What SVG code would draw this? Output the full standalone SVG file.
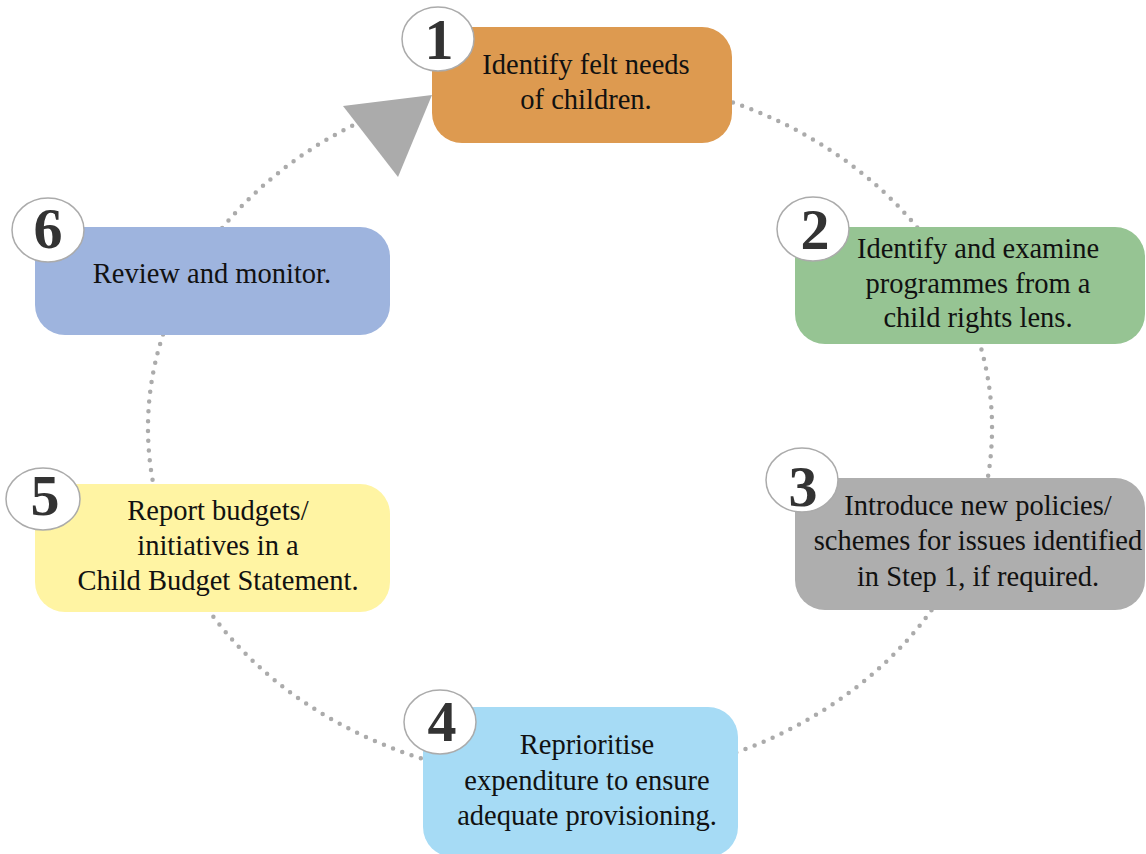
<svg xmlns="http://www.w3.org/2000/svg" width="1146" height="854" viewBox="0 0 1146 854">
<style>
.conn{fill:none;stroke:#ababab;stroke-width:4.5;stroke-linecap:round;stroke-dasharray:0 9.8}
.arrow{fill:#ababab}
.badge{fill:#ffffff;stroke:#ababab;stroke-width:1.5}
.num{font-family:"Liberation Serif","DejaVu Serif",serif;font-weight:bold;font-size:58px;fill:#333333;text-anchor:middle}
.lbl{font-family:"Liberation Serif","DejaVu Serif",serif;font-size:28.5px;fill:#111111;text-anchor:middle}
</style>
<rect width="1146" height="854" fill="#ffffff"/>
<g id="connectors">
<path class="conn" d="M714.3,96.3 A422,353 0 0 1 923.9,235.8"/>
<path class="conn" d="M975.7,330.7 A422,353 0 0 1 982.8,501.4"/>
<path class="conn" d="M952.5,577.2 A422,353 0 0 1 714.3,759.7"/>
<path class="conn" d="M439.6,763.7 A422,353 0 0 1 204.5,604.5"/>
<path class="conn" d="M154.4,489.3 A422,353 0 0 1 166.4,324.8"/>
<path class="conn" d="M204.5,251.5 A422,353 0 0 1 378.4,113.5"/>
<polygon class="arrow" points="343,106 432,95 398,177"/>
</g>
<g id="node1">
<rect x="432" y="27" width="300" height="116" rx="30" fill="#DD9A50"/>
<ellipse class="badge" cx="438" cy="39" rx="36" ry="32"/>
<text class="num" x="439" y="59">1</text>
<text class="lbl" x="586" y="74">Identify felt needs</text>
<text class="lbl" x="586" y="109">of children.</text>
</g>
<g id="node2">
<rect x="795" y="227" width="350" height="117" rx="30" fill="#96C493"/>
<ellipse class="badge" cx="813" cy="229" rx="36" ry="32"/>
<text class="num" x="815" y="249">2</text>
<text class="lbl" x="978" y="258">Identify and examine</text>
<text class="lbl" x="978" y="293">programmes from a</text>
<text class="lbl" x="978" y="327">child rights lens.</text>
</g>
<g id="node3">
<rect x="795" y="478" width="350" height="132" rx="30" fill="#AEAEAE"/>
<ellipse class="badge" cx="802" cy="480" rx="36" ry="32"/>
<text class="num" x="803" y="506">3</text>
<text class="lbl" x="978" y="515">Introduce new policies/</text>
<text class="lbl" x="978" y="550">schemes for issues identified</text>
<text class="lbl" x="978" y="586">in Step 1, if required.</text>
</g>
<g id="node4">
<rect x="423" y="707" width="315" height="150" rx="30" fill="#A6DBF5"/>
<ellipse class="badge" cx="440" cy="722" rx="36" ry="32"/>
<text class="num" x="442" y="741">4</text>
<text class="lbl" x="587" y="754">Reprioritise</text>
<text class="lbl" x="587" y="790">expenditure to ensure</text>
<text class="lbl" x="587" y="825">adequate provisioning.</text>
</g>
<g id="node5">
<rect x="35" y="484" width="355" height="128" rx="30" fill="#FFF4A3"/>
<ellipse class="badge" cx="43" cy="499" rx="37" ry="31"/>
<text class="num" x="45" y="515">5</text>
<text class="lbl" x="218" y="520">Report budgets/</text>
<text class="lbl" x="218" y="555">initiatives in a</text>
<text class="lbl" x="218" y="590">Child Budget Statement.</text>
</g>
<g id="node6">
<rect x="35" y="227" width="355" height="108" rx="30" fill="#9EB4DE"/>
<ellipse class="badge" cx="48" cy="230" rx="36" ry="32"/>
<text class="num" x="48" y="248">6</text>
<text class="lbl" x="212" y="283">Review and monitor.</text>
</g>
</svg>
